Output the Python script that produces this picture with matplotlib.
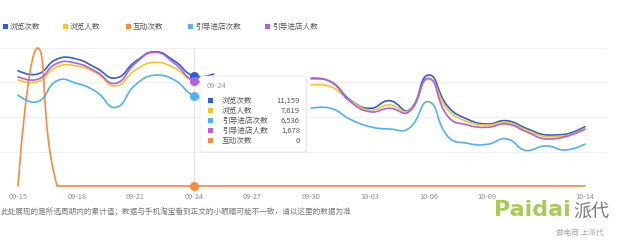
import numpy as np
import matplotlib
matplotlib.use("Agg")
import matplotlib.pyplot as plt
from matplotlib.path import Path
from matplotlib.patches import PathPatch, Rectangle, FancyBboxPatch

plt.rcParams['font.family'] = ['Noto Sans CJK SC', 'DejaVu Sans']

nan = np.nan
days = [f"09-{d}" for d in range(15, 31)] + [f"10-{d:02d}" for d in range(1, 15)]
tick_days = ["09-15", "09-18", "09-21", "09-24", "09-27", "09-30", "10-03", "10-06", "10-09", "10-14"]

# one value per day, 09-26 .. 09-29 missing
browse_pv = [11700, 11360, 12880, 12880, 11970, 10960, 12610, 13620, 12680, 11159, 11360,
             nan, nan, nan, nan,
             10930, 10580, 8725, 7880, 8650, 7710, 11260, 8050, 6770, 6290, 6620, 5850, 5170, 5240, 6020]
browse_uv = [7680, 7560, 8640, 8700, 8190, 7250, 8400, 8960, 8550, 7619, 7700,
             nan, nan, nan, nan,
             7320, 7200, 6180, 5510, 5870, 5460, 7730, 5510, 4660, 4420, 4590, 4060, 3570, 3620, 4180]
interact = [0, 3, 0, 0, 0, 0, 0, 0, 0, 0, 0, 0, 0, 0, 0,
            0, 0, 0, 0, 0, 0, 0, 0, 0, 0, 0, 0, 0, 0, 0]
guide_pv = [6590, 6110, 7630, 7440, 6830, 5700, 7320, 8040, 7680, 6536, 6380,
            nan, nan, nan, nan,
            5630, 5630, 4830, 4300, 4130, 4180, 6110, 3570, 3090, 3020, 3410, 2560, 2900, 2610, 3040]
guide_uv = [1742, 1701, 1956, 1956, 1822, 1637, 1956, 2131, 1956, 1678, 1690,
            nan, nan, nan, nan,
            1706, 1663, 1344, 1184, 1239, 1184, 1717, 1105, 972, 936, 988, 866, 749, 786, 904]

names = ["浏览次数", "浏览人数", "互动次数", "引导进店次数", "引导进店人数"]
series = [browse_pv, browse_uv, interact, guide_pv, guide_uv]
ymaxs = [14000, 10000, 3, 10000, 2200]
colors = ["#2f5fd8", "#f5c623", "#fa8a3c", "#51b1f4", "#b15fe0"]
hover = "09-24"

W, H = 620, 245
fig = plt.figure(figsize=(W / 100, H / 100), dpi=100)
fig.patch.set_facecolor("white")


def fx(px):
    return px / W


def fy(py):
    return 1 - py / H


x = np.arange(len(days))
px_day = 19.55
ax = fig.add_axes([0, fy(186), fx(607), (186 - 48) / H])
ax.set_xlim(-18 / px_day, (607 - 18) / px_day)
ax.set_ylim(0, ymaxs[0])
for s in ax.spines.values():
    s.set_visible(False)
ax.set_yticks([])
for g in np.linspace(0, ymaxs[0], 5):
    ax.axhline(g, color="#f0f0f0", lw=0.8, zorder=0)
ax.set_xticks([days.index(d) for d in tick_days])
ax.set_xticklabels(tick_days, fontsize=5.3, color="#8c8c8c")
ax.tick_params(axis="x", length=0, pad=5)
hi = days.index(hover)
ax.axvline(hi, color="#e4e4e4", lw=0.8, zorder=0.5)


def smooth_line(a, xs, ys, color, smooth=0.5):
    ys = np.asarray(ys, dtype=float)
    lo, hi_ = np.nanmin(ys), np.nanmax(ys)
    ok = ~np.isnan(ys)
    runs, cur = [], []
    for i in range(len(ys)):
        if ok[i]:
            cur.append(i)
        elif cur:
            runs.append(cur)
            cur = []
    if cur:
        runs.append(cur)
    for run in runs:
        if len(run) < 2:
            continue
        p = np.column_stack([xs[run], ys[run]])
        d = a.transData.transform(p)
        n = len(p)
        cin, cout = p.copy(), p.copy()
        for i in range(1, n - 1):
            v = (p[i + 1] - p[i - 1]) * smooth
            d0 = np.hypot(*(d[i] - d[i - 1]))
            d1 = np.hypot(*(d[i + 1] - d[i]))
            r0, r1 = d0 / (d0 + d1), d1 / (d0 + d1)
            cin[i] = p[i] - v * r0
            cout[i] = p[i] + v * r1
        cin[:, 1] = np.clip(cin[:, 1], lo, hi_)
        cout[:, 1] = np.clip(cout[:, 1], lo, hi_)
        verts, codes = [p[0]], [Path.MOVETO]
        for i in range(n - 1):
            verts += [cout[i], cin[i + 1], p[i + 1]]
            codes += [Path.CURVE4] * 3
        a.add_patch(PathPatch(Path(verts, codes), fill=False, edgecolor=color,
                              lw=1.2, capstyle="round", joinstyle="round", clip_on=False))


axes = [ax]
for k in range(1, len(series)):
    t = ax.twinx()
    t.set_ylim(0, ymaxs[k])
    t.set_yticks([])
    for s in t.spines.values():
        s.set_visible(False)
    axes.append(t)

for a, ys, c in zip(axes, series, colors):
    smooth_line(a, x.astype(float), ys, c)
for a, ys, c in zip(axes, series, colors):
    a.plot([hi], [ys[hi]], "o", color=c, ms=5.5, mec=c, clip_on=False, zorder=5)

# legend
leg_x = [3, 63, 126, 188, 265]
for lx, name, c in zip(leg_x, names, colors):
    fig.add_artist(Rectangle((fx(lx), fy(29)), 5 / W, 5 / H, transform=fig.transFigure,
                             facecolor=c, edgecolor="none"))
    fig.text(fx(lx + 7), fy(26.5), name, fontsize=5.5, color="#555555", va="center")

# tooltip
fig.add_artist(FancyBboxPatch((fx(201), fy(153)), 106 / W, 76 / H, transform=fig.transFigure,
                              boxstyle="round,pad=0,rounding_size=0.006",
                              facecolor="#e9e9e9", edgecolor="none", alpha=0.6, zorder=6))
fig.add_artist(FancyBboxPatch((fx(200), fy(152)), 106 / W, 76 / H, transform=fig.transFigure,
                              boxstyle="round,pad=0,rounding_size=0.006",
                              facecolor="white", edgecolor="#e6e6e6", lw=0.5, zorder=7))
fig.text(fx(207), fy(86), hover, fontsize=5.5, color="#9a9a9a", va="center", zorder=8)
order = sorted(range(len(series)), key=lambda k: -series[k][hi])
for r, k in enumerate(order):
    ry = 100.7 + r * 10
    fig.add_artist(Rectangle((fx(208), fy(ry + 2.5)), 5 / W, 5 / H, transform=fig.transFigure,
                             facecolor=colors[k], edgecolor="none", zorder=8))
    fig.text(fx(222), fy(ry), names[k], fontsize=5.5, color="#555555", va="center", zorder=8)
    fig.text(fx(300), fy(ry), f"{int(series[k][hi]):,}", fontsize=5.5, color="#555555",
             va="center", ha="right", zorder=8)

# footnote
fig.text(fx(1), fy(212), "此处展现的是所选周期内的累计值；数据与手机淘宝看到正文的小眼睛可能不一致，请以这里的数据为准",
         fontsize=5.5, color="#777777", va="center")

# watermark
fig.text(fx(494), fy(210), "Paidai", fontsize=16, fontweight="bold", color="#a8cb55",
         va="center", family="DejaVu Sans")
fig.text(fx(573), fy(211), "派代", fontsize=13, color="#7a7a7a", va="center")
fig.text(fx(556), fy(233), "做电商 上派代", fontsize=5.5, color="#a8a8a8", va="center")

fig.savefig("out.png", dpi=100, facecolor="white")
